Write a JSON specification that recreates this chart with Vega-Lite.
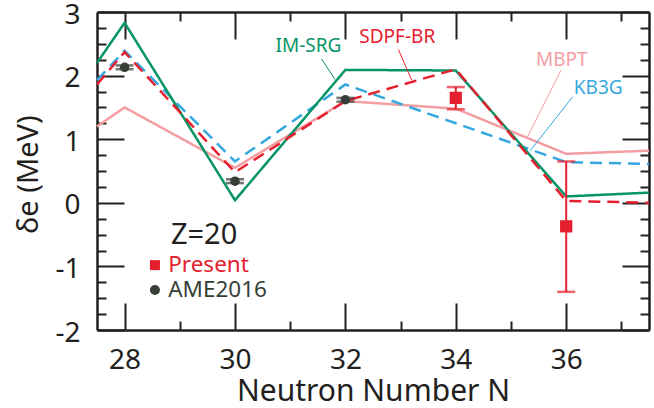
{
  "$schema": "https://vega.github.io/schema/vega-lite/v6.json",
  "width": 552,
  "height": 318,
  "autosize": {"type": "none"},
  "padding": {"left": 97, "top": 12, "right": 5, "bottom": 78},
  "background": "white",
  "config": {
    "view": {"stroke": null},
    "font": "Noto Sans",
    "axis": {"grid": false, "domainColor": "#231f20", "tickColor": "#231f20", "labelColor": "#231f20", "titleColor": "#231f20", "domainWidth": 2.5, "tickWidth": 2, "labelFont": "Noto Sans", "titleFont": "Noto Sans", "titleFontWeight": "normal"}
  },
  "datasets": {
    "models": [
      {"model": "MBPT", "N": 27.5, "de": 1.2},
      {"model": "MBPT", "N": 28, "de": 1.5},
      {"model": "MBPT", "N": 30, "de": 0.55},
      {"model": "MBPT", "N": 32, "de": 1.6},
      {"model": "MBPT", "N": 34, "de": 1.48},
      {"model": "MBPT", "N": 36, "de": 0.77},
      {"model": "MBPT", "N": 37.5, "de": 0.82},
      {"model": "KB3G", "N": 27.5, "de": 1.93},
      {"model": "KB3G", "N": 28, "de": 2.39},
      {"model": "KB3G", "N": 30, "de": 0.65},
      {"model": "KB3G", "N": 32, "de": 1.86},
      {"model": "KB3G", "N": 34, "de": 1.25},
      {"model": "KB3G", "N": 36, "de": 0.64},
      {"model": "KB3G", "N": 37.5, "de": 0.61},
      {"model": "IM-SRG", "N": 27.5, "de": 2.2},
      {"model": "IM-SRG", "N": 28, "de": 2.83},
      {"model": "IM-SRG", "N": 30, "de": 0.04},
      {"model": "IM-SRG", "N": 32, "de": 2.09},
      {"model": "IM-SRG", "N": 34, "de": 2.08},
      {"model": "IM-SRG", "N": 36, "de": 0.1},
      {"model": "IM-SRG", "N": 37.5, "de": 0.16},
      {"model": "SDPF-BR", "N": 27.5, "de": 1.86},
      {"model": "SDPF-BR", "N": 28, "de": 2.37},
      {"model": "SDPF-BR", "N": 30, "de": 0.48},
      {"model": "SDPF-BR", "N": 32, "de": 1.6},
      {"model": "SDPF-BR", "N": 34, "de": 2.1},
      {"model": "SDPF-BR", "N": 36, "de": 0.03},
      {"model": "SDPF-BR", "N": 37.5, "de": 0.0}
    ],
    "present": [
      {"model": "Present", "N": 34, "de": 1.65, "lo": 1.47, "hi": 1.82},
      {"model": "Present", "N": 36, "de": -0.37, "lo": -1.4, "hi": 0.65}
    ],
    "ame": [
      {"model": "AME2016", "N": 28, "de": 2.13, "lo": 2.1, "hi": 2.16},
      {"model": "AME2016", "N": 30, "de": 0.34, "lo": 0.31, "hi": 0.37},
      {"model": "AME2016", "N": 32, "de": 1.62, "lo": 1.59, "hi": 1.65}
    ],
    "labels": [
      {"model": "IM-SRG", "N": 31.33, "de": 2.46},
      {"model": "SDPF-BR", "N": 32.94, "de": 2.61},
      {"model": "MBPT", "N": 35.92, "de": 2.25},
      {"model": "KB3G", "N": 36.58, "de": 1.8}
    ],
    "leaders": [
      {"model": "IM-SRG", "N": 31.57, "de": 2.26, "N2": 31.81, "de2": 1.94},
      {"model": "SDPF-BR", "N": 32.96, "de": 2.41, "N2": 33.2, "de2": 1.93},
      {"model": "MBPT", "N": 35.91, "de": 2.09, "N2": 35.3, "de2": 1.04},
      {"model": "KB3G", "N": 36.12, "de": 1.67, "N2": 35.34, "de2": 0.81}
    ],
    "legend": [
      {"model": "Present", "N": 28.55, "de": -0.98, "tx": 28.79},
      {"model": "AME2016", "N": 28.55, "de": -1.37, "tx": 28.79}
    ],
    "title": [
      {"model": "Z", "label": "Z=20", "N": 29.44, "de": -0.5}
    ]
  },
  "resolve": {"axis": {"x": "independent", "y": "independent"}},
  "layer": [
    {
      "data": {"name": "models"},
      "mark": {"type": "line", "strokeWidth": 2.5},
      "encoding": {
        "x": {"field": "N", "type": "quantitative", "scale": {"domain": [27.5, 37.5], "nice": false, "zero": false},
          "axis": {"orient": "bottom", "values": [28, 30, 32, 34, 36], "tickSize": -27, "labelFontSize": 28, "labelPadding": 65, "labelBaseline": "alphabetic", "labelFlush": false, "labelOverlap": false, "title": "Neutron Number N", "titleFontSize": 30, "titleY": 61, "titleBaseline": "middle"}},
        "y": {"field": "de", "type": "quantitative", "scale": {"domain": [-2, 3], "nice": false, "zero": false},
          "axis": {"orient": "left", "values": [-2, -1, 0, 1, 2, 3], "tickSize": -27, "labelFontSize": 28, "labelPadding": 44, "labelOffset": 3, "labelBaseline": "middle", "labelFlush": false, "labelOverlap": false, "labelExpr": "replace(datum.label, '\u2212', '-')", "title": "δe (MeV)", "titleFontSize": 29, "titleX": -69, "titleY": 162, "titleAngle": -90, "titleAlign": "center", "titleBaseline": "middle"}},
        "color": {"field": "model", "type": "nominal", "legend": null,
          "scale": {"domain": ["MBPT", "KB3G", "IM-SRG", "SDPF-BR", "Present", "AME2016", "Z"], "range": ["#f39ea3", "#35a8e0", "#079467", "#e5202e", "#e5202e", "#373d37", "#231f20"]}},
        "strokeDash": {"field": "model", "type": "nominal", "legend": null,
          "scale": {"domain": ["MBPT", "KB3G", "IM-SRG", "SDPF-BR"], "range": [[1, 0], [12, 7], [1, 0], [12, 7]]}}
      }
    },
    {
      "data": {"name": "present"},
      "mark": {"type": "rule", "strokeWidth": 2, "color": "#e5202e"},
      "encoding": {
        "x": {"field": "N", "type": "quantitative", "scale": {"domain": [27.5, 37.5], "nice": false, "zero": false},
          "axis": {"orient": "top", "values": [28, 30, 32, 34, 36], "tickSize": -27, "labels": false, "title": null}},
        "y": {"field": "lo", "type": "quantitative", "scale": {"domain": [-2, 3], "nice": false, "zero": false},
          "axis": {"orient": "right", "values": [-2, -1, 0, 1, 2, 3], "tickSize": -27, "labels": false, "title": null}},
        "y2": {"field": "hi"}
      }
    },
    {
      "data": {"name": "present"},
      "mark": {"type": "tick", "orient": "horizontal", "size": 18, "thickness": 2.5, "color": "#e5202e"},
      "encoding": {
        "x": {"field": "N", "type": "quantitative", "scale": {"domain": [27.5, 37.5], "nice": false, "zero": false},
          "axis": {"orient": "bottom", "values": [29, 31, 33, 35, 37], "tickSize": -9, "labels": false, "domain": false, "title": null}},
        "y": {"field": "lo", "type": "quantitative", "scale": {"domain": [-2, 3], "nice": false, "zero": false},
          "axis": {"orient": "left", "values": [-1.75, -1.5, -1.25, -0.75, -0.5, -0.25, 0.25, 0.5, 0.75, 1.25, 1.5, 1.75, 2.25, 2.5, 2.75], "tickSize": -9, "labels": false, "domain": false, "title": null}}
      }
    },
    {
      "data": {"name": "present"},
      "mark": {"type": "tick", "orient": "horizontal", "size": 18, "thickness": 2.5, "color": "#e5202e"},
      "encoding": {
        "x": {"field": "N", "type": "quantitative", "scale": {"domain": [27.5, 37.5], "nice": false, "zero": false},
          "axis": {"orient": "top", "values": [29, 31, 33, 35, 37], "tickSize": -9, "labels": false, "domain": false, "title": null}},
        "y": {"field": "hi", "type": "quantitative", "scale": {"domain": [-2, 3], "nice": false, "zero": false},
          "axis": {"orient": "right", "values": [-1.75, -1.5, -1.25, -0.75, -0.5, -0.25, 0.25, 0.5, 0.75, 1.25, 1.5, 1.75, 2.25, 2.5, 2.75], "tickSize": -9, "labels": false, "domain": false, "title": null}}
      }
    },
    {
      "data": {"name": "present"},
      "mark": {"type": "point", "shape": "square", "filled": true, "opacity": 1, "size": 150, "color": "#e5202e"},
      "encoding": {
        "x": {"field": "N", "type": "quantitative", "axis": null},
        "y": {"field": "de", "type": "quantitative", "axis": null}
      }
    },
    {
      "data": {"name": "ame"},
      "mark": {"type": "rule", "strokeWidth": 2, "color": "#373d37"},
      "encoding": {
        "x": {"field": "N", "type": "quantitative", "axis": null},
        "y": {"field": "lo", "type": "quantitative", "axis": null},
        "y2": {"field": "hi"}
      }
    },
    {
      "data": {"name": "ame"},
      "mark": {"type": "tick", "orient": "horizontal", "size": 18, "thickness": 2.5, "color": "#373d37"},
      "encoding": {
        "x": {"field": "N", "type": "quantitative", "axis": null},
        "y": {"field": "lo", "type": "quantitative", "axis": null}
      }
    },
    {
      "data": {"name": "ame"},
      "mark": {"type": "tick", "orient": "horizontal", "size": 18, "thickness": 2.5, "color": "#373d37"},
      "encoding": {
        "x": {"field": "N", "type": "quantitative", "axis": null},
        "y": {"field": "hi", "type": "quantitative", "axis": null}
      }
    },
    {
      "data": {"name": "ame"},
      "mark": {"type": "point", "shape": "circle", "filled": true, "opacity": 1, "size": 90, "color": "#373d37"},
      "encoding": {
        "x": {"field": "N", "type": "quantitative", "axis": null},
        "y": {"field": "de", "type": "quantitative", "axis": null}
      }
    },
    {
      "data": {"name": "leaders"},
      "mark": {"type": "rule", "strokeWidth": 1},
      "encoding": {
        "x": {"field": "N", "type": "quantitative", "axis": null},
        "y": {"field": "de", "type": "quantitative", "axis": null},
        "x2": {"field": "N2"},
        "y2": {"field": "de2"},
        "color": {"field": "model", "type": "nominal", "legend": null}
      }
    },
    {
      "data": {"name": "labels"},
      "mark": {"type": "text", "fontSize": 19, "align": "center", "baseline": "middle"},
      "encoding": {
        "x": {"field": "N", "type": "quantitative", "axis": null},
        "y": {"field": "de", "type": "quantitative", "axis": null},
        "text": {"field": "model"},
        "color": {"field": "model", "type": "nominal", "legend": null}
      }
    },
    {
      "data": {"name": "legend"},
      "mark": {"type": "point", "filled": true, "opacity": 1, "size": 100},
      "encoding": {
        "x": {"field": "N", "type": "quantitative", "axis": null},
        "y": {"field": "de", "type": "quantitative", "axis": null},
        "shape": {"field": "model", "type": "nominal", "legend": null, "scale": {"domain": ["Present", "AME2016"], "range": ["square", "circle"]}},
        "color": {"field": "model", "type": "nominal", "legend": null}
      }
    },
    {
      "data": {"name": "legend"},
      "mark": {"type": "text", "fontSize": 22.5, "align": "left", "baseline": "middle"},
      "encoding": {
        "x": {"field": "tx", "type": "quantitative", "axis": null},
        "y": {"field": "de", "type": "quantitative", "axis": null},
        "text": {"field": "model"},
        "color": {"field": "model", "type": "nominal", "legend": null}
      }
    },
    {
      "data": {"name": "title"},
      "mark": {"type": "text", "fontSize": 29, "align": "center", "baseline": "middle"},
      "encoding": {
        "x": {"field": "N", "type": "quantitative", "axis": null},
        "y": {"field": "de", "type": "quantitative", "axis": null},
        "text": {"field": "label"},
        "color": {"field": "model", "type": "nominal", "legend": null}
      }
    }
  ]
}
